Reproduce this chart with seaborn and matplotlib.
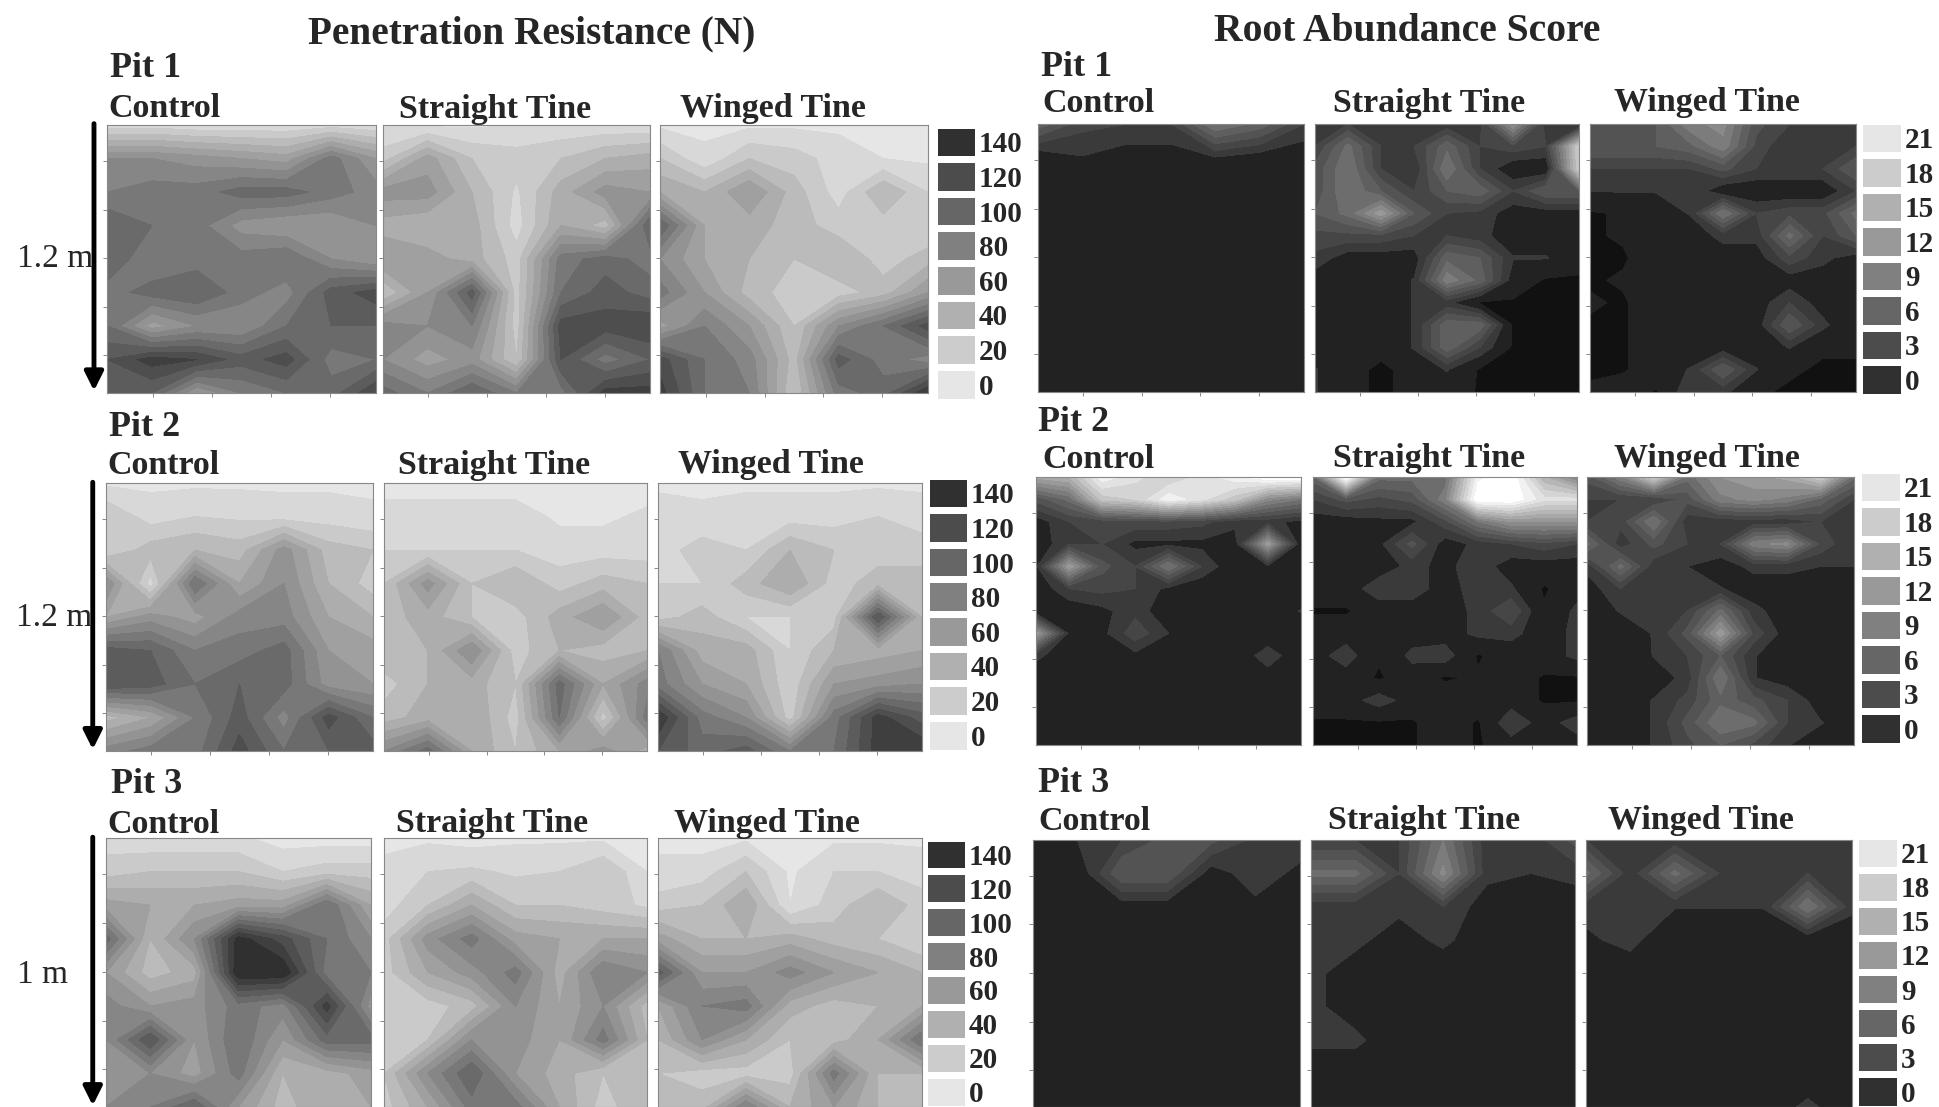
import numpy as np
import matplotlib
matplotlib.use("Agg")
import matplotlib.pyplot as plt
from matplotlib.colors import ListedColormap
from matplotlib.patches import FancyArrowPatch
import seaborn as sns

# Penetration resistance (N), top row = surface
pr_p1_control = [[15,15,12,12,12,15,12],[70,70,65,60,55,85,60],[80,85,85,95,95,85,75],[100,90,85,65,60,60,70],
                 [100,80,85,85,90,70,60],[85,95,100,85,75,105,115],[90,55,70,70,90,100,100],[110,125,120,105,115,85,90],[110,100,60,80,90,95,120]]
pr_p1_straight = [[10,8,8,10,12,12,12],[25,55,30,25,30,40,45],[65,65,40,18,45,65,60],[45,40,45,15,50,35,100],
                  [60,55,45,25,85,95,85],[30,60,105,25,90,105,95],[75,70,80,25,115,115,120],[70,55,65,30,110,85,100],[95,80,100,80,85,125,125]]
pr_p1_winged = [[8,8,8,8,8,8,10],[30,12,30,25,15,10,8],[50,40,60,35,15,40,20],[100,50,45,35,25,25,20],
                [70,50,40,30,40,25,35],[85,60,35,25,25,35,60],[55,80,60,30,70,90,115],[115,90,75,35,105,85,75],[125,90,80,30,85,95,130]]
pr_p2_control = [[8,8,8,8,8,8,8],[30,15,20,18,15,15,12],[20,35,40,35,65,35,30],[70,15,90,50,70,40,25],
                 [50,65,55,75,75,50,40],[105,100,80,85,95,60,55],[110,105,90,100,95,65,60],[35,50,80,105,75,115,90],[75,85,85,115,90,100,105]]
pr_p2_straight = [[5,5,5,5,5,5,5],[15,15,15,15,8,8,12],[20,20,20,20,15,15,15],[30,65,30,40,25,35,30],
                  [35,45,30,25,45,60,35],[40,40,70,25,40,35,40],[25,40,45,30,95,50,75],[35,45,50,25,90,25,85],[70,95,50,30,50,65,45]]
pr_p2_winged = [[8,8,8,8,8,8,8],[15,12,15,15,15,20,15],[15,25,20,40,30,25,25],[20,20,35,50,25,35,35],
                [25,35,20,20,25,110,40],[80,45,45,20,40,45,50],[85,60,50,22,60,65,70],[130,85,70,25,85,125,105],[110,95,105,80,90,125,130]]
pr_p3_control = [[15,12,12,12,5,5,5],[25,30,30,30,20,25,25],[55,50,50,55,55,90,50],[95,40,70,135,115,90,70],
                 [60,35,45,140,140,85,80],[75,60,65,85,75,125,65],[70,110,60,90,60,95,95],[60,70,55,85,40,45,55],[70,80,100,60,35,50,50]]
pr_p3_straight = [[5,8,5,8,8,8,8],[15,20,22,18,20,30,10],[15,30,50,30,30,25,18],[25,65,85,55,50,50,50],
                  [25,50,65,85,45,80,70],[25,25,35,70,50,70,35],[20,30,70,65,50,85,40],[30,70,100,60,45,30,40],[25,50,85,85,50,25,40]]
pr_p3_winged = [[8,5,8,5,8,8,8],[12,15,30,8,20,20,15],[25,30,50,10,25,40,25],[55,40,40,45,35,30,20],
                [105,60,60,75,60,50,40],[50,80,85,45,35,40,50],[40,70,50,30,35,50,90],[30,25,25,25,85,40,40],[35,35,80,40,60,40,40]]

# Root abundance score
ra_p1_control = [[7,3.5,3,3,9,7,3],[0,1.4,.5,.5,1.4,.5,0],[0]*7,[0]*7,[0]*7,[0]*7,[0]*7,[0]*7,[0]*7]
ra_p1_straight = [[3,3,2,2,2,2.5,12,2,0],[3,8,3,3,7,3,4,3,18],[5,9,3,1.5,9,3,0,0,18],[5,9,6,3,6,7,3,6,6],
                  [6,8,13,6,3,2.5,.5,.5,.5],[4,4,4,3,3,2,.5,.5,0],[2.5,.5,.5,.5,7,6,1.6,1.6,0],[.5,.5,.5,1.6,10,7,.5,-1,-1],
                  [.5,.5,.5,1.6,2,-1,-1,-1,-1],[.5,.5,.5,1.6,7,7,-1,-1,-1],[.5,.5,.5,1.6,7,3,-1,-1,-1],[1.6,.5,-1.5,.5,1.6,-1,-1,-1,-1],[1.6,.5,-1.5,.5,.5,-1,-1,-1,-1]]
ra_p1_winged = [[6,6,6,10,11,5,3,3,3],[6,6,6,7,10,4,1.5,1.5,3],[3,3,3,3,5,3,3,3,6],[1.6,1.6,1.6,3,0,0,0,0,3],
                [-1,-.5,.5,1.6,9,3,4,4,8],[-1,-.5,.5,.5,2,2,8,3,6],[-1,-1,.5,.5,.5,.5,4,2,.5],[-1,-.5,-.5,.5,.5,.5,.5,.5,-.5],
                [-.5,-1,.5,.5,.5,.5,3,.5,-.5],[-1,-1,.5,.5,.5,.5,6,2,-.5],[-1,-1,.5,.5,.5,.5,1.6,-.5,-.5],[-1,-1,.5,1.6,6,1.6,-.5,-1,-1],[-.5,.5,-1,3,2,-.5,-1,-1,-1]]
ra_p2_control = [[14,15,22,20,18,20,22,24,24],[5,8,17,18,22,20,17,11,9],[.5,3,3.5,4,4,3.5,2,2,1],[0,3,3,1,1,1,.5,13,0],
                 [1,13,5,3,9,3,0,1,0],[0,3,3.5,3,1,0,0,0,0],[0,0,1,2.5,0,0,0,0,1.6],[13,1,1,4,1.5,0,0,0,0],
                 [2,0,0,1,0,0,0,2.5,0],[0,0,0,0,0,0,0,.5,0],[0]*9,[0]*9,[0]*9]
ra_p2_straight = [[7,24,8,8,8,22,24,15,10],[3,5,4,5,10,24,24,20,20],[.5,.5,1,1,4,9,12,12,12],[.5,.5,1,5,.5,2,3,4,3],
                  [.5,.5,.5,2,1,2.5,.5,.5,.5],[.5,.5,2.5,2.5,.5,2.5,1.8,-1,.5],[-1,-1,.5,.5,.5,2,4.5,-.5,2],[.5,.5,.5,.5,.5,2,2,.5,2],
                  [.5,2.5,-.5,2,2.5,-1,.5,.5,2],[.5,.5,-1,.5,-1,-.5,.5,-1,-1],[.5,.5,2.5,.5,.5,.5,.5,-1,-1],[-1,-1,-1,-1,.5,-1,3,.5,2.5],[-1,-1,-1,-1,.5,-1,.5,.5,.5]]
ra_p2_winged = [[5,10,18,8,12,13,14,18,8],[3,3,3,5,10,11,10,7,3],[3,3.5,9,2,2,2,2,3,2],[8,2,5,3,3,10,11,4,1.6],
                [2,8,2,1.5,.5,2,2,1.5,1.5],[.5,3,1.6,1.6,1.6,.5,.5,.5,.5],[.5,1.6,1.6,3,8,2,.5,.5,.5],[-.5,.5,1.6,5,13,4,.5,.5,.5],
                [-.5,-.5,1.6,3,6,1.6,.5,.5,.5],[-.5,.5,.5,2,9,1.6,.5,-.5,-.5],[.5,.5,1.6,3.5,7,5,3,.5,-.5],[.5,.5,1.6,5,9,8,3,1.6,.5],[.5,.5,1.6,4,6,4,1.6,.5,.5]]
ra_p3_control = [[1.5,1.5,3,5,5,2.5,2.5],[.5,0,6,6,.5,2.5,1],[0,0,.5,.5,0,1,0],[0]*7,[0]*7,[0]*7,[0]*7,[0]*7,[0]*7]
ra_p3_straight = [[3,3,3,9,2,2,5],[8,8,3,11,2,1.5,2],[2,2,2,3,.5,.5,.5],[2,2,.5,2,0,1,0],
                  [2,.5,0,0,0,0,0],[2,.5,0,0,0,0,0],[2,2,0,0,0,0,0],[0]*7,[0]*7]
ra_p3_winged = [[3,1.5,2,3,2.5,3,2.5],[8,2,8,3,2.5,3,2.5],[2,2,1.6,1.6,1.6,9,2],[1.2,2,0,0,0,0,0],
                [0,.5,0,0,0,0,0],[0]*7,[0]*7,[0]*7,[0,0,0,0,0,2,0]]

treatments = ["Control", "Straight Tine", "Winged Tine"]
pr_ticks = [140, 120, 100, 80, 60, 40, 20, 0]
ra_ticks = [21, 18, 15, 12, 9, 6, 3, 0]

W, H = 1939, 1107
sns.set_style("white")
plt.rcParams["font.family"] = ["Liberation Serif", "DejaVu Serif"]
fig = plt.figure(figsize=(W / 100, H / 100), dpi=100)


def px_axes(x0, y0, x1, y1):
    return fig.add_axes([x0 / W, 1 - y1 / H, (x1 - x0) / W, (y1 - y0) / H])


def label(x, y, s, size=24.5, weight="bold", ha="left"):
    fig.text(x / W, 1 - (y + 2) / H, s, fontsize=size, fontweight=weight, ha=ha, va="center")


pr_levels = np.arange(0, 150, 10)
pr_colors = sns.blend_palette(["#e6e6e6", "#cccccc", "#b0b0b0", "#999999", "#808080", "#666666", "#4c4c4c", "#303030"], len(pr_levels) - 1)
ra_levels = np.concatenate([[-3, -0.75], np.arange(1.5, 25, 1.5)])
ra_colors = ["#111111", "#222222"] + sns.blend_palette(["#3a3a3a", "#666666", "#999999", "#cccccc", "#ffffff"], len(ra_levels) - 3)


def panel(box, grid, levels, colors):
    ax = px_axes(*box)
    z = np.array(grid, dtype=float)
    x = np.linspace(0, 1, z.shape[1])
    y = np.linspace(0, 1, z.shape[0])
    ax.contourf(x, y, z, levels=levels, colors=colors, extend="both")
    ax.set_xlim(0, 1)
    ax.set_ylim(1, 0)
    ax.set_xticks([.17, .39, .61, .83])
    ax.set_yticks([.135, .316, .498, .68, .86])
    ax.set_xticklabels([])
    ax.set_yticklabels([])
    ax.tick_params(length=3, width=0.7, color="#888888", bottom=True, left=True)
    for s in ax.spines.values():
        s.set_color("#888888")
        s.set_linewidth(0.8)


def legend(x0, x1, y0, y1, ticks, swatches):
    # cells keep a white gap through the heatmap grid lines
    ax = px_axes(x0 - 3.5, y0 - 3.5, x1 + 3.5, y1 + 3.5)
    vals = np.arange(len(ticks)).reshape(-1, 1)
    sns.heatmap(vals, ax=ax, cmap=ListedColormap(swatches), cbar=False, linewidths=5, linecolor="white",
                xticklabels=False, yticklabels=ticks)
    ax.yaxis.tick_right()
    ax.tick_params(axis="y", length=0, pad=1, labelrotation=0)
    for t in ax.get_yticklabels():
        t.set_fontsize(21)
        t.set_fontweight("bold")


pr_swatch = ["#303030", "#4c4c4c", "#666666", "#808080", "#999999", "#b0b0b0", "#cccccc", "#e6e6e6"]
ra_swatch = ["#e6e6e6", "#cccccc", "#b0b0b0", "#999999", "#808080", "#666666", "#4c4c4c", "#303030"]

left_rows = [
    ((125, 393), [(107, 376), (383, 650), (660, 928)], [pr_p1_control, pr_p1_straight, pr_p1_winged], (937, 974, 128, 398)),
    ((483, 751), [(106, 373), (384, 647), (658, 922)], [pr_p2_control, pr_p2_straight, pr_p2_winged], (929, 966, 479, 749)),
    ((838, 1107), [(106, 371), (384, 647), (658, 922)], [pr_p3_control, pr_p3_straight, pr_p3_winged], (927, 964, 841, 1105)),
]
right_rows = [
    ((124, 392), [(1038, 1304), (1315, 1579), (1590, 1856)], [ra_p1_control, ra_p1_straight, ra_p1_winged], (1862, 1900, 124, 393)),
    ((477, 745), [(1036, 1301), (1313, 1577), (1587, 1854)], [ra_p2_control, ra_p2_straight, ra_p2_winged], (1861, 1899, 473, 742)),
    ((840, 1107), [(1033, 1300), (1311, 1575), (1586, 1852)], [ra_p3_control, ra_p3_straight, ra_p3_winged], (1858, 1896, 839, 1105)),
]

for (y0, y1), xs, grids, leg in left_rows:
    for (x0, x1), g in zip(xs, grids):
        panel((x0, y0, x1, y1), g, pr_levels, pr_colors)
    legend(*leg, pr_ticks, pr_swatch)

for (y0, y1), xs, grids, leg in right_rows:
    for (x0, x1), g in zip(xs, grids):
        panel((x0, y0, x1, y1), g, ra_levels, ra_colors)
    legend(*leg, ra_ticks, ra_swatch)

# Headings (positions measured on the 1568 wide view)
S = 1939 / 1568
label(430 * S, 26 * S, "Penetration Resistance (N)", size=28.3, ha="center")
label(1138 * S, 24 * S, "Root Abundance Score", size=28.5, ha="center")

heads = [
    ("Pit 1", 89, 54, [(88, 86), (323, 87), (550, 86)]),
    ("Pit 2", 88, 344, [(87, 375), (322, 375), (548, 374)]),
    ("Pit 3", 90, 633, [(87, 665), (320, 664), (545, 664)]),
    ("Pit 1", 842, 53, [(843, 82), (1078, 82), (1305, 81)]),
    ("Pit 2", 839, 340, [(843, 370), (1078, 369), (1305, 369)]),
    ("Pit 3", 839, 632, [(840, 663), (1074, 662), (1300, 662)]),
]
for pit, px, py, places in heads:
    label(px * S, py * S, pit, size=26)
    for name, (tx, ty) in zip(treatments, places):
        label(tx * S, ty * S, name)

for text, tx, ty, ay0, ay1, ax_x in [("1.2 m", 14, 208, 100, 316, 76), ("1.2 m", 13, 498, 390, 606, 75), ("1 m", 14, 787, 677, 894, 75)]:
    label(tx * S, ty * S, text, size=24, weight="normal")
    arrow = FancyArrowPatch((ax_x * S / W, 1 - ay0 * S / H), (ax_x * S / W, 1 - ay1 * S / H), transform=fig.transFigure,
                            arrowstyle="-|>", mutation_scale=28, linewidth=3.5, color="black", shrinkA=0, shrinkB=0)
    fig.add_artist(arrow)

fig.savefig("out.png", dpi=100)
